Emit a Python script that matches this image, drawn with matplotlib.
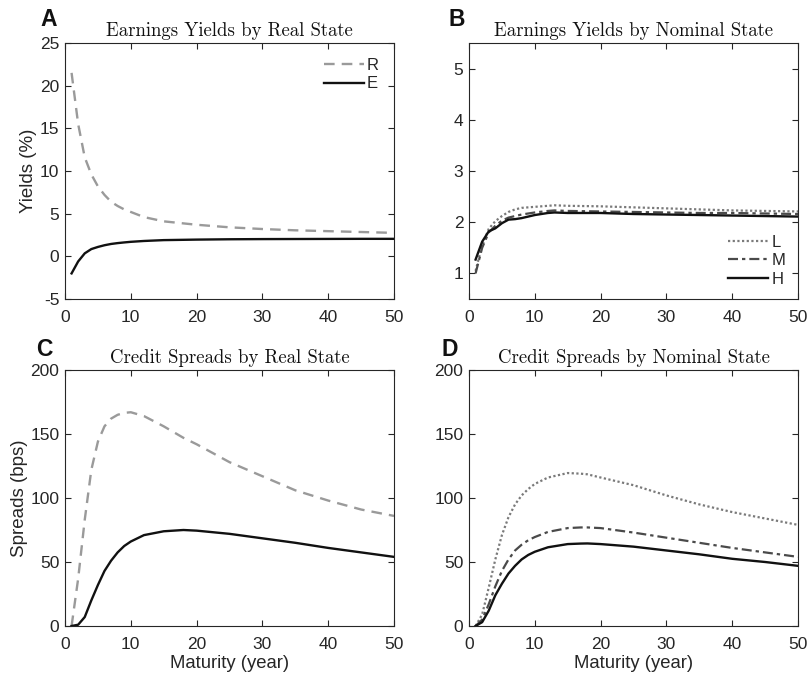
import matplotlib
matplotlib.use("Agg")
import matplotlib.pyplot as plt

# Maturities (years) at which each curve is tabulated
mat_a = [1, 2, 3, 4, 5, 6, 7, 8, 9, 10, 12, 15, 20, 25, 30, 35, 40, 45, 50]
yield_R = [21.5, 15.5, 11.6, 9.6, 8.2, 7.2, 6.4, 5.9, 5.5, 5.2, 4.6, 4.1, 3.7, 3.4, 3.2, 3.05, 2.95, 2.85, 2.75]
yield_E = [-2.0, -0.6, 0.35, 0.85, 1.1, 1.3, 1.45, 1.55, 1.63, 1.7, 1.8, 1.9, 1.96, 2.0, 2.02, 2.03, 2.04, 2.05, 2.05]

mat_b = [1, 2, 3, 4, 5, 6, 7, 8, 9, 10, 12, 13, 15, 20, 25, 30, 35, 40, 45, 50]
yield_L = [1.05, 1.55, 1.87, 2.02, 2.12, 2.2, 2.25, 2.28, 2.29, 2.3, 2.32, 2.33, 2.32, 2.31, 2.29, 2.27, 2.25, 2.23, 2.22, 2.21]
yield_M = [1.0, 1.5, 1.8, 1.93, 2.03, 2.09, 2.12, 2.15, 2.17, 2.19, 2.22, 2.23, 2.22, 2.21, 2.2, 2.19, 2.18, 2.18, 2.17, 2.16]
yield_H = [1.27, 1.62, 1.82, 1.88, 1.98, 2.05, 2.06, 2.08, 2.11, 2.14, 2.18, 2.19, 2.18, 2.18, 2.16, 2.15, 2.14, 2.13, 2.12, 2.11]

mat_c = [1, 2, 3, 4, 5, 6, 7, 8, 9, 10, 12, 15, 18, 20, 25, 30, 35, 40, 45, 50]
spread_R = [0, 37, 83, 122, 144, 156, 162, 165, 166.5, 167, 164, 156, 147, 142, 128, 117, 106, 98, 91, 86]
spread_E = [0, 1, 7, 20, 32, 43, 51, 57.5, 62.5, 66, 71, 74, 75, 74.5, 72, 68.5, 65, 61, 57.5, 54]

mat_d = [1, 2, 3, 4, 5, 6, 7, 8, 9, 10, 12, 15, 17, 18, 20, 25, 30, 35, 40, 45, 50]
spread_L = [0, 9, 30, 52, 71, 85, 95, 102, 107, 111, 116, 119.5, 119, 118.5, 116, 110, 102, 95, 89, 84, 79]
spread_M = [0, 5, 17, 31, 43, 52, 59, 63.5, 67, 69.5, 73.5, 76.5, 77, 77, 76.5, 73, 69, 65, 61, 57.5, 54]
spread_H = [0, 3, 12, 24, 33, 41, 47, 52, 55.5, 58, 61.5, 64, 64.4, 64.5, 64, 62, 59, 56, 52.5, 50, 47]

AX_COL = "#262626"
plt.rcParams["font.family"] = ["Liberation Sans", "DejaVu Sans"]

fig = plt.figure(figsize=(8.1, 6.75), dpi=100)
W, H = 810, 675


def make_axes(left, top, right, bottom):
    return fig.add_axes([left / W, (H - bottom) / H, (right - left) / W, (bottom - top) / H])


axA = make_axes(65, 43, 394, 299)
axB = make_axes(469, 43, 798, 299)
axC = make_axes(65, 370, 394, 626)
axD = make_axes(469, 370, 798, 626)

c_R = "#9a9a9a"
c_E = "#111111"
c_L = "#7a7a7a"
c_M = "#4a4a4a"
c_H = "#111111"
dash_R = (0, (4.5, 3))
dot_L = (0, (1, 1.1))
dashdot_M = (0, (4.5, 1.8, 1.5, 1.8))

axA.plot(mat_a, yield_R, color=c_R, lw=1.7, ls=dash_R, label="R")
axA.plot(mat_a, yield_E, color=c_E, lw=1.7, label="E")
axB.plot(mat_b, yield_L, color=c_L, lw=1.6, ls=dot_L, label="L")
axB.plot(mat_b, yield_M, color=c_M, lw=1.6, ls=dashdot_M, label="M")
axB.plot(mat_b, yield_H, color=c_H, lw=1.7, label="H")
axC.plot(mat_c, spread_R, color=c_R, lw=1.7, ls=dash_R)
axC.plot(mat_c, spread_E, color=c_E, lw=1.7)
axD.plot(mat_d, spread_L, color=c_L, lw=1.6, ls=dot_L)
axD.plot(mat_d, spread_M, color=c_M, lw=1.6, ls=dashdot_M)
axD.plot(mat_d, spread_H, color=c_H, lw=1.7)

axA.set_ylim(-5, 25)
axA.set_yticks([-5, 0, 5, 10, 15, 20, 25])
axA.set_yticklabels(["-5", "0", "5", "10", "15", "20", "25"])
axB.set_ylim(0.5, 5.5)
axB.set_yticks([1, 2, 3, 4, 5])
for ax in (axC, axD):
    ax.set_ylim(0, 200)
    ax.set_yticks([0, 50, 100, 150, 200])

titles = ["Earnings Yields by Real State", "Earnings Yields by Nominal State",
          "Credit Spreads by Real State", "Credit Spreads by Nominal State"]
letters = ["A", "B", "C", "D"]
letter_pos = [(49, 20), (457, 20), (44, 350), (450, 350)]
for ax, t, letter, (lx, ly) in zip((axA, axB, axC, axD), titles, letters, letter_pos):
    ax.set_xlim(0, 50)
    ax.set_xticks([0, 10, 20, 30, 40, 50])
    ax.tick_params(direction="in", top=True, right=True, length=4, width=0.8,
                   colors=AX_COL, labelsize=12.5)
    ax.tick_params(axis="x", pad=8)
    ax.tick_params(axis="y", pad=4)
    for s in ax.spines.values():
        s.set_color(AX_COL)
        s.set_linewidth(0.8)
    ax.set_title(t, family="cmr10", fontsize=13.5, color="#111111", pad=5)
    fig.text(lx / W, 1 - ly / H, letter, fontsize=16.5, fontweight="bold",
             color="#111111", ha="center", va="center")

axA.set_ylabel("Yields (%)", fontsize=13.5, color=AX_COL, labelpad=2)
axC.set_ylabel("Spreads (bps)", fontsize=13.5, color=AX_COL, labelpad=2)
axC.set_xlabel("Maturity (year)", fontsize=13.3, color=AX_COL, labelpad=2)
axD.set_xlabel("Maturity (year)", fontsize=13.3, color=AX_COL, labelpad=2)

legA = axA.legend(loc="upper right", frameon=False, fontsize=12, handlelength=2.4,
                  handletextpad=0.2, labelspacing=0.2, borderaxespad=0.5,
                  labelcolor=AX_COL)
legB = axB.legend(loc="lower right", frameon=False, fontsize=12, handlelength=2.4,
                  handletextpad=0.2, labelspacing=0.2, borderaxespad=0.35,
                  labelcolor=AX_COL)

fig.savefig("out.png", dpi=100, facecolor="white")
